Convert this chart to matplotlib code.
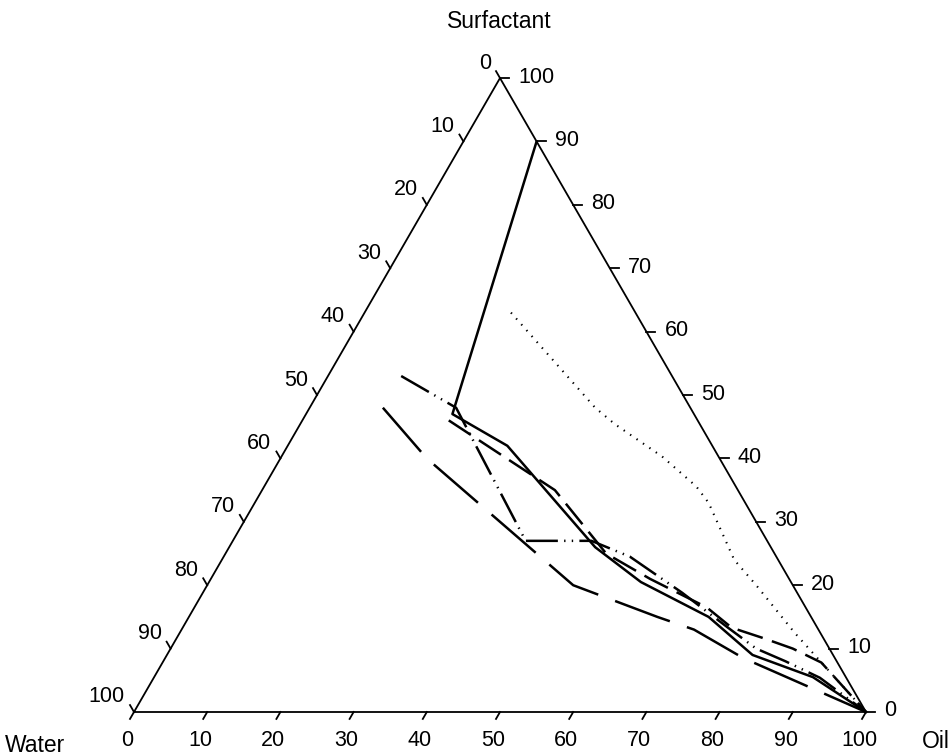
import numpy as np
import matplotlib
matplotlib.use("Agg")
import matplotlib.pyplot as plt

plt.rcParams['font.family'] = ['Liberation Sans', 'DejaVu Sans']
plt.rcParams['lines.scale_dashes'] = False

# ---- data (oil %, surfactant %) ; water = 100 - oil - surfactant ----
solid_oil = [10, 20, 30, 50, 59, 71, 80, 90, 100]
solid_surf = [90, 47, 42, 26, 20.5, 15, 9, 5.5, 0]

dotted_oil = [20, 39, 43, 52, 59, 62, 70, 75, 84, 100]
dotted_surf = [63, 48, 45.4, 40.3, 35.6, 33, 24, 20, 12.5, 0]

longdash_oil = [10, 20, 50, 64, 70, 79, 100]
longdash_surf = [48, 40, 20, 15, 13, 8.5, 0]

dashdot_oil = [10, 20, 40, 49, 55.5, 65.5, 74.5, 80, 85, 91, 100]
dashdot_surf = [53, 48, 27, 27, 24.5, 18.8, 13.3, 10, 8, 5.4, 0]

dashed_oil = [20, 40, 46, 52, 60, 70, 75, 80, 85, 90, 100]
dashed_surf = [46, 35, 30, 25, 21, 16.5, 13.3, 11.7, 10, 7.8, 0]

tick_values = [0, 10, 20, 30, 40, 50, 60, 70, 80, 90, 100]
tick_labels = [str(v) for v in tick_values]
corner_labels = ["Water", "Oil", "Surfactant"]

H = np.sqrt(3) / 2


def tern(oil, surf):
    oil = np.asarray(oil, float)
    surf = np.asarray(surf, float)
    return oil + surf / 2.0, surf * H


PX = 7.32  # pixels per data unit
fig = plt.figure(figsize=(9.52, 7.55), dpi=100)
ax = fig.add_axes([0, 0, 1, 1])
ax.set_xlim(-134 / PX, (952 - 134) / PX)
ax.set_ylim(-(755 - 712) / PX, 712 / PX)
ax.axis('off')


def px(v):
    return v / PX


# triangle frame
tx, ty = tern([0, 100, 0, 0], [0, 0, 100, 0])
ax.plot(tx, ty, color='black', lw=1.3, solid_joinstyle='miter', zorder=3)

fs_tick = 15.5
tl = px(8)
for v, lab in zip(tick_values, tick_labels):
    # bottom axis (oil)
    x0, y0 = tern(v, 0)
    dx, dy = -0.5 * tl, -H * tl
    ax.plot([x0, x0 + dx], [y0, y0 + dy], color='black', lw=1.3)
    ax.text(x0 - px(7), y0 - px(28), lab, ha='center', va='center', fontsize=fs_tick)
    # right axis (surfactant)
    x0, y0 = tern(100 - v, v)
    ax.plot([x0, x0 + px(9)], [y0, y0], color='black', lw=1.3)
    ax.text(x0 + px(18), y0 + px(1), lab, ha='left', va='center', fontsize=fs_tick)
    # left axis (water)
    x0, y0 = tern(0, 100 - v)
    ax.plot([x0, x0 - 0.5 * tl], [y0, y0 + H * tl], color='black', lw=1.3)
    ax.text(x0 - px(9), y0 + px(15), lab, ha='right', va='center', fontsize=fs_tick)

# corner titles
fs_title = 16.5
ax.text(px(35 - 134), px(712 - 745), corner_labels[0], ha='center', va='center', fontsize=fs_title)
ax.text(px(936 - 134), px(712 - 742), corner_labels[1], ha='center', va='center', fontsize=fs_title)
ax.text(px(499 - 134), px(712 - 22), corner_labels[2], ha='center', va='center', fontsize=fs_title)

lw = 1.8
x, y = tern(solid_oil, solid_surf)
ax.plot(x, y, color='black', lw=lw, linestyle='-')
x, y = tern(dotted_oil, dotted_surf)
ax.plot(x, y, color='black', lw=1.5, linestyle=(0, (1, 4.6)))
x, y = tern(longdash_oil, longdash_surf)
ax.plot(x, y, color='black', lw=lw, linestyle=(0, (42, 13)))
x, y = tern(dashdot_oil, dashdot_surf)
ax.plot(x, y, color='black', lw=lw, linestyle=(0, (23, 4.5, 1, 4.5, 1, 4.5)))
x, y = tern(dashed_oil, dashed_surf)
ax.plot(x, y, color='black', lw=lw, linestyle=(0, (19, 7)))

fig.savefig('out.png', dpi=100)
